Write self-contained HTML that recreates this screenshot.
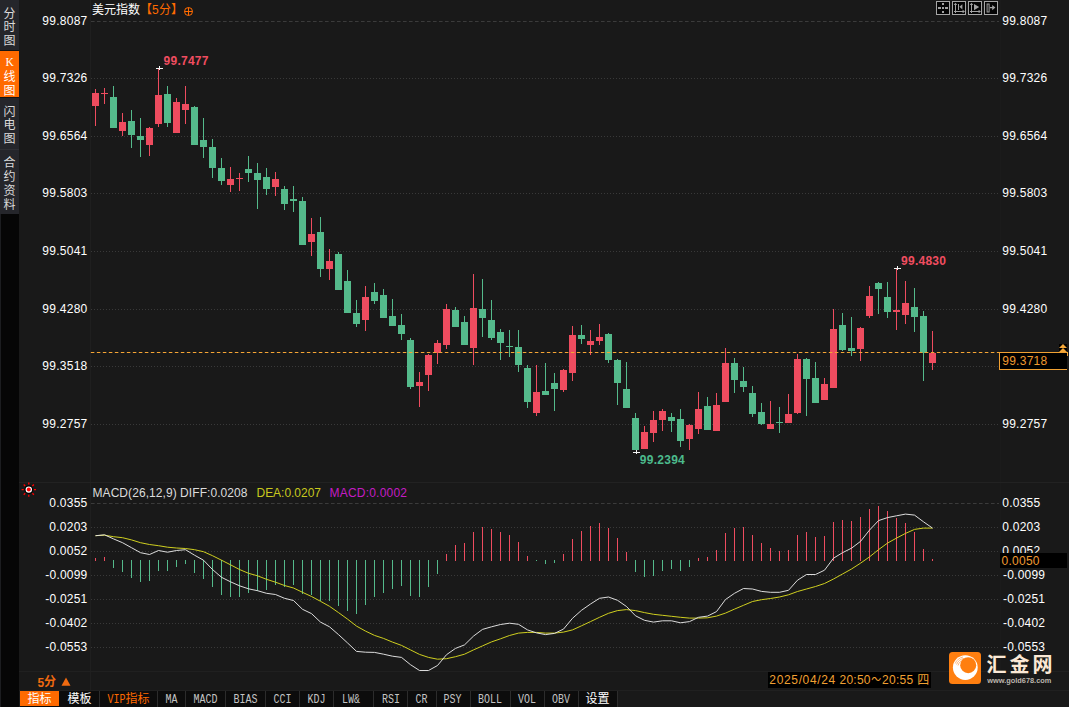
<!DOCTYPE html>
<html><head><meta charset="utf-8"><title>chart</title>
<style>
html,body{margin:0;padding:0;background:#191919;overflow:hidden;}
svg{display:block;}
</style></head><body>
<svg width="1069" height="707" viewBox="0 0 1069 707">
<rect x="0" y="0" width="1069" height="707" fill="#191919"/>
<rect x="0" y="0" width="19" height="707" fill="#060606"/>
<rect x="0" y="0" width="19" height="214" fill="#25262b"/>
<rect x="0" y="51" width="19" height="46" fill="#ff6a00"/>
<rect x="0" y="50" width="19" height="1" fill="#141414"/>
<rect x="0" y="97" width="19" height="1" fill="#141414"/>
<rect x="0" y="149" width="19" height="1" fill="#2f3035"/>
<rect x="0" y="214" width="1" height="493" fill="#1c1d20"/>
<rect x="90" y="0" width="1" height="691" fill="#1f1f1f"/>
<rect x="1000" y="0" width="1" height="691" fill="#1b1b1b"/>
<rect x="19" y="482" width="1050" height="1" fill="#222222"/>
<rect x="19" y="671" width="1050" height="1" fill="#202020"/>
<rect x="19" y="690" width="1050" height="1" fill="#202020"/>
<g shape-rendering="crispEdges">
<line x1="91" y1="21.5" x2="999" y2="21.5" stroke="#3b3b3b" stroke-width="1" stroke-dasharray="3.6 2.4" shape-rendering="auto"/>
<line x1="91" y1="78.5" x2="999" y2="78.5" stroke="#393939" stroke-width="1" stroke-dasharray="1 2"/>
<line x1="91" y1="136.5" x2="999" y2="136.5" stroke="#393939" stroke-width="1" stroke-dasharray="1 2"/>
<line x1="91" y1="193.5" x2="999" y2="193.5" stroke="#393939" stroke-width="1" stroke-dasharray="1 2"/>
<line x1="91" y1="251.5" x2="999" y2="251.5" stroke="#393939" stroke-width="1" stroke-dasharray="1 2"/>
<line x1="91" y1="309.5" x2="999" y2="309.5" stroke="#393939" stroke-width="1" stroke-dasharray="1 2"/>
<line x1="91" y1="366.5" x2="999" y2="366.5" stroke="#393939" stroke-width="1" stroke-dasharray="1 2"/>
<line x1="91" y1="424.5" x2="999" y2="424.5" stroke="#393939" stroke-width="1" stroke-dasharray="1 2"/>
<line x1="91" y1="503.5" x2="999" y2="503.5" stroke="#3b3b3b" stroke-width="1" stroke-dasharray="3.6 2.4" shape-rendering="auto"/>
<line x1="91" y1="527.5" x2="999" y2="527.5" stroke="#393939" stroke-width="1" stroke-dasharray="1 2"/>
<line x1="91" y1="551.5" x2="999" y2="551.5" stroke="#393939" stroke-width="1" stroke-dasharray="1 2"/>
<line x1="91" y1="575.5" x2="999" y2="575.5" stroke="#393939" stroke-width="1" stroke-dasharray="1 2"/>
<line x1="91" y1="599.5" x2="999" y2="599.5" stroke="#393939" stroke-width="1" stroke-dasharray="1 2"/>
<line x1="91" y1="623.5" x2="999" y2="623.5" stroke="#393939" stroke-width="1" stroke-dasharray="1 2"/>
<line x1="91" y1="647.5" x2="999" y2="647.5" stroke="#393939" stroke-width="1" stroke-dasharray="1 2"/>
</g>
<g shape-rendering="crispEdges">
<rect x="95" y="89" width="1" height="37" fill="#ee4c5f"/>
<rect x="92" y="93" width="7" height="13" fill="#ee4c5f"/>
<rect x="104" y="88" width="1" height="16" fill="#ee4c5f"/>
<rect x="101" y="93" width="7" height="1" fill="#ee4c5f"/>
<rect x="113" y="86" width="1" height="42" fill="#54ba8b"/>
<rect x="110" y="97" width="7" height="31" fill="#54ba8b"/>
<rect x="122" y="113" width="1" height="23" fill="#ee4c5f"/>
<rect x="119" y="122" width="7" height="9" fill="#ee4c5f"/>
<rect x="131" y="110" width="1" height="38" fill="#54ba8b"/>
<rect x="128" y="121" width="7" height="14" fill="#54ba8b"/>
<rect x="140" y="118" width="1" height="39" fill="#54ba8b"/>
<rect x="137" y="136" width="7" height="4" fill="#54ba8b"/>
<rect x="149" y="127" width="1" height="29" fill="#ee4c5f"/>
<rect x="146" y="128" width="7" height="17" fill="#ee4c5f"/>
<rect x="158" y="68" width="1" height="59" fill="#ee4c5f"/>
<rect x="155" y="95" width="7" height="29" fill="#ee4c5f"/>
<rect x="167" y="86" width="1" height="41" fill="#54ba8b"/>
<rect x="164" y="94" width="7" height="29" fill="#54ba8b"/>
<rect x="176" y="98" width="1" height="35" fill="#ee4c5f"/>
<rect x="173" y="102" width="7" height="31" fill="#ee4c5f"/>
<rect x="185" y="86" width="1" height="38" fill="#ee4c5f"/>
<rect x="182" y="104" width="7" height="6" fill="#ee4c5f"/>
<rect x="194" y="106" width="1" height="39" fill="#54ba8b"/>
<rect x="191" y="107" width="7" height="38" fill="#54ba8b"/>
<rect x="203" y="118" width="1" height="40" fill="#54ba8b"/>
<rect x="200" y="140" width="7" height="7" fill="#54ba8b"/>
<rect x="212" y="139" width="1" height="39" fill="#54ba8b"/>
<rect x="209" y="147" width="7" height="21" fill="#54ba8b"/>
<rect x="221" y="158" width="1" height="27" fill="#54ba8b"/>
<rect x="218" y="168" width="7" height="13" fill="#54ba8b"/>
<rect x="230" y="167" width="1" height="25" fill="#ee4c5f"/>
<rect x="227" y="179" width="7" height="6" fill="#ee4c5f"/>
<rect x="239" y="173" width="1" height="18" fill="#ee4c5f"/>
<rect x="236" y="178" width="7" height="1" fill="#ee4c5f"/>
<rect x="248" y="156" width="1" height="26" fill="#54ba8b"/>
<rect x="245" y="169" width="7" height="4" fill="#54ba8b"/>
<rect x="257" y="163" width="1" height="46" fill="#54ba8b"/>
<rect x="254" y="173" width="7" height="7" fill="#54ba8b"/>
<rect x="266" y="168" width="1" height="27" fill="#54ba8b"/>
<rect x="263" y="177" width="7" height="12" fill="#54ba8b"/>
<rect x="275" y="172" width="1" height="24" fill="#ee4c5f"/>
<rect x="272" y="179" width="7" height="8" fill="#ee4c5f"/>
<rect x="284" y="186" width="1" height="24" fill="#54ba8b"/>
<rect x="281" y="189" width="7" height="15" fill="#54ba8b"/>
<rect x="293" y="186" width="1" height="26" fill="#54ba8b"/>
<rect x="290" y="199" width="7" height="2" fill="#54ba8b"/>
<rect x="302" y="197" width="1" height="48" fill="#54ba8b"/>
<rect x="299" y="201" width="7" height="44" fill="#54ba8b"/>
<rect x="311" y="218" width="1" height="38" fill="#ee4c5f"/>
<rect x="308" y="234" width="7" height="8" fill="#ee4c5f"/>
<rect x="320" y="217" width="1" height="60" fill="#54ba8b"/>
<rect x="317" y="232" width="7" height="37" fill="#54ba8b"/>
<rect x="329" y="249" width="1" height="31" fill="#ee4c5f"/>
<rect x="326" y="261" width="7" height="8" fill="#ee4c5f"/>
<rect x="338" y="252" width="1" height="38" fill="#54ba8b"/>
<rect x="335" y="254" width="7" height="36" fill="#54ba8b"/>
<rect x="347" y="270" width="1" height="43" fill="#54ba8b"/>
<rect x="344" y="281" width="7" height="32" fill="#54ba8b"/>
<rect x="356" y="300" width="1" height="27" fill="#54ba8b"/>
<rect x="353" y="313" width="7" height="11" fill="#54ba8b"/>
<rect x="365" y="286" width="1" height="45" fill="#ee4c5f"/>
<rect x="362" y="297" width="7" height="23" fill="#ee4c5f"/>
<rect x="374" y="283" width="1" height="21" fill="#54ba8b"/>
<rect x="371" y="292" width="7" height="9" fill="#54ba8b"/>
<rect x="383" y="289" width="1" height="29" fill="#54ba8b"/>
<rect x="380" y="295" width="7" height="23" fill="#54ba8b"/>
<rect x="392" y="299" width="1" height="27" fill="#54ba8b"/>
<rect x="389" y="316" width="7" height="10" fill="#54ba8b"/>
<rect x="401" y="314" width="1" height="26" fill="#54ba8b"/>
<rect x="398" y="325" width="7" height="9" fill="#54ba8b"/>
<rect x="410" y="338" width="1" height="51" fill="#54ba8b"/>
<rect x="407" y="340" width="7" height="47" fill="#54ba8b"/>
<rect x="419" y="372" width="1" height="35" fill="#ee4c5f"/>
<rect x="416" y="382" width="7" height="4" fill="#ee4c5f"/>
<rect x="428" y="354" width="1" height="37" fill="#ee4c5f"/>
<rect x="425" y="355" width="7" height="20" fill="#ee4c5f"/>
<rect x="437" y="340" width="1" height="24" fill="#ee4c5f"/>
<rect x="434" y="343" width="7" height="10" fill="#ee4c5f"/>
<rect x="446" y="304" width="1" height="45" fill="#ee4c5f"/>
<rect x="443" y="309" width="7" height="36" fill="#ee4c5f"/>
<rect x="455" y="307" width="1" height="20" fill="#54ba8b"/>
<rect x="452" y="310" width="7" height="17" fill="#54ba8b"/>
<rect x="464" y="316" width="1" height="29" fill="#54ba8b"/>
<rect x="461" y="322" width="7" height="23" fill="#54ba8b"/>
<rect x="473" y="274" width="1" height="91" fill="#ee4c5f"/>
<rect x="470" y="308" width="7" height="40" fill="#ee4c5f"/>
<rect x="482" y="279" width="1" height="58" fill="#54ba8b"/>
<rect x="479" y="309" width="7" height="9" fill="#54ba8b"/>
<rect x="491" y="300" width="1" height="40" fill="#54ba8b"/>
<rect x="488" y="320" width="7" height="18" fill="#54ba8b"/>
<rect x="500" y="329" width="1" height="31" fill="#54ba8b"/>
<rect x="497" y="332" width="7" height="11" fill="#54ba8b"/>
<rect x="509" y="330" width="1" height="27" fill="#54ba8b"/>
<rect x="506" y="346" width="7" height="1" fill="#54ba8b"/>
<rect x="518" y="330" width="1" height="42" fill="#54ba8b"/>
<rect x="515" y="347" width="7" height="18" fill="#54ba8b"/>
<rect x="527" y="365" width="1" height="43" fill="#54ba8b"/>
<rect x="524" y="368" width="7" height="34" fill="#54ba8b"/>
<rect x="536" y="365" width="1" height="51" fill="#ee4c5f"/>
<rect x="533" y="392" width="7" height="21" fill="#ee4c5f"/>
<rect x="545" y="363" width="1" height="32" fill="#54ba8b"/>
<rect x="542" y="391" width="7" height="4" fill="#54ba8b"/>
<rect x="554" y="373" width="1" height="38" fill="#54ba8b"/>
<rect x="551" y="383" width="7" height="6" fill="#54ba8b"/>
<rect x="563" y="369" width="1" height="23" fill="#ee4c5f"/>
<rect x="560" y="370" width="7" height="20" fill="#ee4c5f"/>
<rect x="572" y="326" width="1" height="55" fill="#ee4c5f"/>
<rect x="569" y="335" width="7" height="38" fill="#ee4c5f"/>
<rect x="581" y="325" width="1" height="19" fill="#54ba8b"/>
<rect x="578" y="335" width="7" height="4" fill="#54ba8b"/>
<rect x="590" y="330" width="1" height="25" fill="#ee4c5f"/>
<rect x="587" y="341" width="7" height="4" fill="#ee4c5f"/>
<rect x="599" y="324" width="1" height="21" fill="#ee4c5f"/>
<rect x="596" y="337" width="7" height="4" fill="#ee4c5f"/>
<rect x="608" y="333" width="1" height="30" fill="#54ba8b"/>
<rect x="605" y="334" width="7" height="26" fill="#54ba8b"/>
<rect x="617" y="359" width="1" height="46" fill="#54ba8b"/>
<rect x="614" y="360" width="7" height="23" fill="#54ba8b"/>
<rect x="626" y="362" width="1" height="46" fill="#54ba8b"/>
<rect x="623" y="389" width="7" height="19" fill="#54ba8b"/>
<rect x="635" y="413" width="1" height="37" fill="#54ba8b"/>
<rect x="632" y="418" width="7" height="32" fill="#54ba8b"/>
<rect x="644" y="426" width="1" height="23" fill="#ee4c5f"/>
<rect x="641" y="432" width="7" height="17" fill="#ee4c5f"/>
<rect x="653" y="411" width="1" height="31" fill="#ee4c5f"/>
<rect x="650" y="420" width="7" height="13" fill="#ee4c5f"/>
<rect x="662" y="409" width="1" height="22" fill="#ee4c5f"/>
<rect x="659" y="411" width="7" height="9" fill="#ee4c5f"/>
<rect x="671" y="413" width="1" height="19" fill="#54ba8b"/>
<rect x="668" y="417" width="7" height="4" fill="#54ba8b"/>
<rect x="680" y="409" width="1" height="38" fill="#54ba8b"/>
<rect x="677" y="419" width="7" height="22" fill="#54ba8b"/>
<rect x="689" y="424" width="1" height="26" fill="#ee4c5f"/>
<rect x="686" y="425" width="7" height="14" fill="#ee4c5f"/>
<rect x="698" y="392" width="1" height="42" fill="#ee4c5f"/>
<rect x="695" y="409" width="7" height="20" fill="#ee4c5f"/>
<rect x="707" y="397" width="1" height="33" fill="#54ba8b"/>
<rect x="704" y="406" width="7" height="24" fill="#54ba8b"/>
<rect x="716" y="393" width="1" height="38" fill="#ee4c5f"/>
<rect x="713" y="405" width="7" height="26" fill="#ee4c5f"/>
<rect x="725" y="348" width="1" height="54" fill="#ee4c5f"/>
<rect x="722" y="363" width="7" height="39" fill="#ee4c5f"/>
<rect x="734" y="358" width="1" height="35" fill="#54ba8b"/>
<rect x="731" y="363" width="7" height="17" fill="#54ba8b"/>
<rect x="743" y="367" width="1" height="25" fill="#54ba8b"/>
<rect x="740" y="381" width="7" height="6" fill="#54ba8b"/>
<rect x="752" y="386" width="1" height="31" fill="#54ba8b"/>
<rect x="749" y="393" width="7" height="21" fill="#54ba8b"/>
<rect x="761" y="403" width="1" height="22" fill="#54ba8b"/>
<rect x="758" y="412" width="7" height="12" fill="#54ba8b"/>
<rect x="770" y="401" width="1" height="28" fill="#ee4c5f"/>
<rect x="767" y="424" width="7" height="5" fill="#ee4c5f"/>
<rect x="779" y="407" width="1" height="26" fill="#54ba8b"/>
<rect x="776" y="422" width="7" height="1" fill="#54ba8b"/>
<rect x="788" y="394" width="1" height="29" fill="#ee4c5f"/>
<rect x="785" y="414" width="7" height="9" fill="#ee4c5f"/>
<rect x="797" y="354" width="1" height="60" fill="#ee4c5f"/>
<rect x="794" y="359" width="7" height="54" fill="#ee4c5f"/>
<rect x="806" y="358" width="1" height="58" fill="#54ba8b"/>
<rect x="803" y="359" width="7" height="20" fill="#54ba8b"/>
<rect x="815" y="362" width="1" height="41" fill="#54ba8b"/>
<rect x="812" y="378" width="7" height="25" fill="#54ba8b"/>
<rect x="824" y="378" width="1" height="22" fill="#ee4c5f"/>
<rect x="821" y="384" width="7" height="16" fill="#ee4c5f"/>
<rect x="833" y="309" width="1" height="79" fill="#ee4c5f"/>
<rect x="830" y="329" width="7" height="59" fill="#ee4c5f"/>
<rect x="842" y="313" width="1" height="38" fill="#54ba8b"/>
<rect x="839" y="325" width="7" height="25" fill="#54ba8b"/>
<rect x="851" y="317" width="1" height="39" fill="#54ba8b"/>
<rect x="848" y="348" width="7" height="3" fill="#54ba8b"/>
<rect x="860" y="327" width="1" height="34" fill="#ee4c5f"/>
<rect x="857" y="328" width="7" height="21" fill="#ee4c5f"/>
<rect x="869" y="286" width="1" height="32" fill="#ee4c5f"/>
<rect x="866" y="296" width="7" height="20" fill="#ee4c5f"/>
<rect x="878" y="282" width="1" height="32" fill="#54ba8b"/>
<rect x="875" y="283" width="7" height="6" fill="#54ba8b"/>
<rect x="887" y="282" width="1" height="36" fill="#54ba8b"/>
<rect x="884" y="297" width="7" height="15" fill="#54ba8b"/>
<rect x="896" y="268" width="1" height="62" fill="#ee4c5f"/>
<rect x="893" y="310" width="7" height="2" fill="#ee4c5f"/>
<rect x="905" y="281" width="1" height="43" fill="#ee4c5f"/>
<rect x="902" y="303" width="7" height="12" fill="#ee4c5f"/>
<rect x="914" y="288" width="1" height="44" fill="#54ba8b"/>
<rect x="911" y="307" width="7" height="10" fill="#54ba8b"/>
<rect x="923" y="311" width="1" height="70" fill="#54ba8b"/>
<rect x="920" y="316" width="7" height="37" fill="#54ba8b"/>
<rect x="932" y="331" width="1" height="39" fill="#ee4c5f"/>
<rect x="929" y="353" width="7" height="10" fill="#ee4c5f"/>
<rect x="95" y="558" width="1" height="3" fill="#ee4c5f"/>
<rect x="104" y="557" width="1" height="4" fill="#ee4c5f"/>
<rect x="113" y="560" width="1" height="8" fill="#54ba8b"/>
<rect x="122" y="560" width="1" height="12" fill="#54ba8b"/>
<rect x="131" y="560" width="1" height="18" fill="#54ba8b"/>
<rect x="140" y="560" width="1" height="22" fill="#54ba8b"/>
<rect x="149" y="560" width="1" height="21" fill="#54ba8b"/>
<rect x="158" y="560" width="1" height="11" fill="#54ba8b"/>
<rect x="167" y="560" width="1" height="11" fill="#54ba8b"/>
<rect x="176" y="560" width="1" height="7" fill="#54ba8b"/>
<rect x="185" y="560" width="1" height="4" fill="#54ba8b"/>
<rect x="194" y="560" width="1" height="13" fill="#54ba8b"/>
<rect x="203" y="560" width="1" height="19" fill="#54ba8b"/>
<rect x="212" y="560" width="1" height="27" fill="#54ba8b"/>
<rect x="221" y="560" width="1" height="35" fill="#54ba8b"/>
<rect x="230" y="560" width="1" height="37" fill="#54ba8b"/>
<rect x="239" y="560" width="1" height="37" fill="#54ba8b"/>
<rect x="248" y="560" width="1" height="33" fill="#54ba8b"/>
<rect x="257" y="560" width="1" height="31" fill="#54ba8b"/>
<rect x="266" y="560" width="1" height="30" fill="#54ba8b"/>
<rect x="275" y="560" width="1" height="25" fill="#54ba8b"/>
<rect x="284" y="560" width="1" height="27" fill="#54ba8b"/>
<rect x="293" y="560" width="1" height="25" fill="#54ba8b"/>
<rect x="302" y="560" width="1" height="34" fill="#54ba8b"/>
<rect x="311" y="560" width="1" height="35" fill="#54ba8b"/>
<rect x="320" y="560" width="1" height="41" fill="#54ba8b"/>
<rect x="329" y="560" width="1" height="41" fill="#54ba8b"/>
<rect x="338" y="560" width="1" height="46" fill="#54ba8b"/>
<rect x="347" y="560" width="1" height="51" fill="#54ba8b"/>
<rect x="356" y="560" width="1" height="54" fill="#54ba8b"/>
<rect x="365" y="560" width="1" height="45" fill="#54ba8b"/>
<rect x="374" y="560" width="1" height="37" fill="#54ba8b"/>
<rect x="383" y="560" width="1" height="33" fill="#54ba8b"/>
<rect x="392" y="560" width="1" height="29" fill="#54ba8b"/>
<rect x="401" y="560" width="1" height="26" fill="#54ba8b"/>
<rect x="410" y="560" width="1" height="36" fill="#54ba8b"/>
<rect x="419" y="560" width="1" height="37" fill="#54ba8b"/>
<rect x="428" y="560" width="1" height="27" fill="#54ba8b"/>
<rect x="437" y="560" width="1" height="14" fill="#54ba8b"/>
<rect x="446" y="554" width="1" height="7" fill="#ee4c5f"/>
<rect x="455" y="545" width="1" height="16" fill="#ee4c5f"/>
<rect x="464" y="543" width="1" height="18" fill="#ee4c5f"/>
<rect x="473" y="532" width="1" height="29" fill="#ee4c5f"/>
<rect x="482" y="527" width="1" height="34" fill="#ee4c5f"/>
<rect x="491" y="529" width="1" height="32" fill="#ee4c5f"/>
<rect x="500" y="532" width="1" height="29" fill="#ee4c5f"/>
<rect x="509" y="535" width="1" height="26" fill="#ee4c5f"/>
<rect x="518" y="542" width="1" height="19" fill="#ee4c5f"/>
<rect x="527" y="556" width="1" height="5" fill="#ee4c5f"/>
<rect x="536" y="560" width="1" height="1" fill="#54ba8b"/>
<rect x="545" y="560" width="1" height="4" fill="#54ba8b"/>
<rect x="554" y="560" width="1" height="3" fill="#54ba8b"/>
<rect x="563" y="554" width="1" height="7" fill="#ee4c5f"/>
<rect x="572" y="539" width="1" height="22" fill="#ee4c5f"/>
<rect x="581" y="531" width="1" height="30" fill="#ee4c5f"/>
<rect x="590" y="526" width="1" height="35" fill="#ee4c5f"/>
<rect x="599" y="523" width="1" height="38" fill="#ee4c5f"/>
<rect x="608" y="528" width="1" height="33" fill="#ee4c5f"/>
<rect x="617" y="538" width="1" height="23" fill="#ee4c5f"/>
<rect x="626" y="552" width="1" height="9" fill="#ee4c5f"/>
<rect x="635" y="560" width="1" height="12" fill="#54ba8b"/>
<rect x="644" y="560" width="1" height="17" fill="#54ba8b"/>
<rect x="653" y="560" width="1" height="16" fill="#54ba8b"/>
<rect x="662" y="560" width="1" height="11" fill="#54ba8b"/>
<rect x="671" y="560" width="1" height="9" fill="#54ba8b"/>
<rect x="680" y="560" width="1" height="11" fill="#54ba8b"/>
<rect x="689" y="560" width="1" height="7" fill="#54ba8b"/>
<rect x="698" y="558" width="1" height="3" fill="#ee4c5f"/>
<rect x="707" y="557" width="1" height="4" fill="#ee4c5f"/>
<rect x="716" y="550" width="1" height="11" fill="#ee4c5f"/>
<rect x="725" y="533" width="1" height="28" fill="#ee4c5f"/>
<rect x="734" y="528" width="1" height="33" fill="#ee4c5f"/>
<rect x="743" y="527" width="1" height="34" fill="#ee4c5f"/>
<rect x="752" y="535" width="1" height="26" fill="#ee4c5f"/>
<rect x="761" y="543" width="1" height="18" fill="#ee4c5f"/>
<rect x="770" y="548" width="1" height="13" fill="#ee4c5f"/>
<rect x="779" y="551" width="1" height="10" fill="#ee4c5f"/>
<rect x="788" y="550" width="1" height="11" fill="#ee4c5f"/>
<rect x="797" y="535" width="1" height="26" fill="#ee4c5f"/>
<rect x="806" y="532" width="1" height="29" fill="#ee4c5f"/>
<rect x="815" y="537" width="1" height="24" fill="#ee4c5f"/>
<rect x="824" y="536" width="1" height="25" fill="#ee4c5f"/>
<rect x="833" y="522" width="1" height="39" fill="#ee4c5f"/>
<rect x="842" y="520" width="1" height="41" fill="#ee4c5f"/>
<rect x="851" y="521" width="1" height="40" fill="#ee4c5f"/>
<rect x="860" y="517" width="1" height="44" fill="#ee4c5f"/>
<rect x="869" y="509" width="1" height="52" fill="#ee4c5f"/>
<rect x="878" y="506" width="1" height="55" fill="#ee4c5f"/>
<rect x="887" y="511" width="1" height="50" fill="#ee4c5f"/>
<rect x="896" y="518" width="1" height="43" fill="#ee4c5f"/>
<rect x="905" y="523" width="1" height="38" fill="#ee4c5f"/>
<rect x="914" y="532" width="1" height="29" fill="#ee4c5f"/>
<rect x="923" y="549" width="1" height="12" fill="#ee4c5f"/>
<rect x="932" y="559" width="1" height="2" fill="#ee4c5f"/>
<rect x="156" y="68" width="7" height="1" fill="#f2f2f2"/><rect x="159" y="66" width="1" height="4" fill="#f2f2f2"/>
<rect x="894" y="268" width="7" height="1" fill="#f2f2f2"/><rect x="897" y="266" width="1" height="4" fill="#f2f2f2"/>
<rect x="633" y="452" width="7" height="1" fill="#f2f2f2"/><rect x="636" y="450" width="1" height="4" fill="#f2f2f2"/>
</g>
<line x1="90.85" y1="352.5" x2="999" y2="352.5" stroke="#f5a535" stroke-width="1" stroke-dasharray="3.5 2.5"/>
<polyline points="95.5,535.7 104.5,535.2 113.5,536.7 122.5,537.7 131.5,539.9 140.5,542.7 149.5,544.5 158.5,545.7 167.5,547.2 176.5,548.0 185.5,548.5 194.5,549.7 203.5,551.7 212.5,555.7 221.5,560.2 230.5,564.8 239.5,569.5 248.5,573.3 257.5,575.8 266.5,579.3 275.5,582.2 284.5,585.5 293.5,588.0 302.5,592.3 311.5,596.5 320.5,601.3 329.5,606.3 338.5,612.6 347.5,619.1 356.5,626.1 365.5,631.1 374.5,635.4 383.5,638.4 392.5,642.1 401.5,645.4 410.5,649.9 419.5,654.4 428.5,657.4 437.5,659.2 446.5,658.7 455.5,656.7 464.5,654.2 473.5,649.9 482.5,645.9 491.5,641.9 500.5,638.8 509.5,635.5 518.5,633.1 527.5,632.4 536.5,632.4 545.5,633.1 554.5,633.1 563.5,632.1 572.5,629.9 581.5,625.8 590.5,621.6 599.5,617.3 608.5,613.3 617.5,610.6 626.5,609.6 635.5,610.6 644.5,612.6 653.5,614.3 662.5,615.3 671.5,616.3 680.5,617.3 689.5,618.1 698.5,618.1 707.5,617.8 716.5,616.1 725.5,613.1 734.5,609.1 743.5,605.3 752.5,601.5 761.5,599.7 770.5,598.5 779.5,597.0 788.5,594.8 797.5,591.5 806.5,589.0 815.5,586.5 824.5,583.5 833.5,579.0 842.5,574.0 851.5,569.0 860.5,563.2 869.5,556.9 878.5,549.7 887.5,543.1 896.5,538.1 905.5,533.4 914.5,529.4 923.5,528.1 932.5,528.1" fill="none" stroke="#d8d820" stroke-width="0.95" stroke-linejoin="round"/>
<polyline points="95.5,535.7 104.5,534.8 113.5,538.9 122.5,542.7 131.5,547.7 140.5,552.7 149.5,554.5 158.5,550.5 167.5,552.2 176.5,550.5 185.5,549.7 194.5,555.2 203.5,560.2 212.5,569.5 221.5,577.3 230.5,581.8 239.5,585.8 248.5,588.8 257.5,590.7 266.5,593.3 275.5,594.5 284.5,598.3 293.5,600.5 302.5,609.3 311.5,613.6 320.5,622.1 329.5,626.8 338.5,634.6 347.5,642.9 356.5,651.4 365.5,652.2 374.5,652.4 383.5,654.2 392.5,656.2 401.5,657.4 410.5,664.7 419.5,670.5 428.5,670.5 437.5,665.5 446.5,654.7 455.5,648.4 464.5,644.9 473.5,636.1 482.5,629.4 491.5,626.8 500.5,624.5 509.5,623.2 518.5,624.3 527.5,629.9 536.5,632.9 545.5,634.6 554.5,633.4 563.5,629.1 572.5,618.3 581.5,610.3 590.5,604.0 599.5,598.3 608.5,597.0 617.5,600.3 626.5,606.5 635.5,615.8 644.5,620.3 653.5,622.1 662.5,620.8 671.5,620.8 680.5,622.8 689.5,621.6 698.5,617.3 707.5,616.1 716.5,611.6 725.5,599.5 734.5,593.3 743.5,588.5 752.5,589.0 761.5,591.4 770.5,592.3 779.5,592.3 788.5,590.3 797.5,580.2 806.5,574.5 815.5,574.5 824.5,570.2 833.5,558.2 842.5,552.7 851.5,548.2 860.5,541.4 869.5,530.1 878.5,520.6 887.5,517.6 896.5,515.8 905.5,514.1 914.5,515.1 923.5,521.8 932.5,528.1" fill="none" stroke="#e6e6e6" stroke-width="0.95" stroke-linejoin="round"/>
<text x="42.3" y="24.5" fill="#fff" font-size="12" text-anchor="start" font-weight="normal" style="font-family:'Liberation Sans',sans-serif"  textLength="45" lengthAdjust="spacing">99.8087</text>
<text x="1002.2" y="24.5" fill="#fff" font-size="12" text-anchor="start" font-weight="normal" style="font-family:'Liberation Sans',sans-serif"  textLength="45" lengthAdjust="spacing">99.8087</text>
<text x="42.3" y="81.5" fill="#fff" font-size="12" text-anchor="start" font-weight="normal" style="font-family:'Liberation Sans',sans-serif"  textLength="45" lengthAdjust="spacing">99.7326</text>
<text x="1002.2" y="81.5" fill="#fff" font-size="12" text-anchor="start" font-weight="normal" style="font-family:'Liberation Sans',sans-serif"  textLength="45" lengthAdjust="spacing">99.7326</text>
<text x="42.3" y="139.5" fill="#fff" font-size="12" text-anchor="start" font-weight="normal" style="font-family:'Liberation Sans',sans-serif"  textLength="45" lengthAdjust="spacing">99.6564</text>
<text x="1002.2" y="139.5" fill="#fff" font-size="12" text-anchor="start" font-weight="normal" style="font-family:'Liberation Sans',sans-serif"  textLength="45" lengthAdjust="spacing">99.6564</text>
<text x="42.3" y="196.5" fill="#fff" font-size="12" text-anchor="start" font-weight="normal" style="font-family:'Liberation Sans',sans-serif"  textLength="45" lengthAdjust="spacing">99.5803</text>
<text x="1002.2" y="196.5" fill="#fff" font-size="12" text-anchor="start" font-weight="normal" style="font-family:'Liberation Sans',sans-serif"  textLength="45" lengthAdjust="spacing">99.5803</text>
<text x="42.3" y="254.5" fill="#fff" font-size="12" text-anchor="start" font-weight="normal" style="font-family:'Liberation Sans',sans-serif"  textLength="45" lengthAdjust="spacing">99.5041</text>
<text x="1002.2" y="254.5" fill="#fff" font-size="12" text-anchor="start" font-weight="normal" style="font-family:'Liberation Sans',sans-serif"  textLength="45" lengthAdjust="spacing">99.5041</text>
<text x="42.3" y="312.5" fill="#fff" font-size="12" text-anchor="start" font-weight="normal" style="font-family:'Liberation Sans',sans-serif"  textLength="45" lengthAdjust="spacing">99.4280</text>
<text x="1002.2" y="312.5" fill="#fff" font-size="12" text-anchor="start" font-weight="normal" style="font-family:'Liberation Sans',sans-serif"  textLength="45" lengthAdjust="spacing">99.4280</text>
<text x="42.3" y="369.5" fill="#fff" font-size="12" text-anchor="start" font-weight="normal" style="font-family:'Liberation Sans',sans-serif"  textLength="45" lengthAdjust="spacing">99.3518</text>
<text x="42.3" y="427.5" fill="#fff" font-size="12" text-anchor="start" font-weight="normal" style="font-family:'Liberation Sans',sans-serif"  textLength="45" lengthAdjust="spacing">99.2757</text>
<text x="1002.2" y="427.5" fill="#fff" font-size="12" text-anchor="start" font-weight="normal" style="font-family:'Liberation Sans',sans-serif"  textLength="45" lengthAdjust="spacing">99.2757</text>
<text x="49.3" y="507" fill="#fff" font-size="12" text-anchor="start" font-weight="normal" style="font-family:'Liberation Sans',sans-serif"  textLength="38" lengthAdjust="spacing">0.0355</text>
<text x="1002.2" y="507" fill="#fff" font-size="12" text-anchor="start" font-weight="normal" style="font-family:'Liberation Sans',sans-serif"  textLength="38" lengthAdjust="spacing">0.0355</text>
<text x="49.3" y="531" fill="#fff" font-size="12" text-anchor="start" font-weight="normal" style="font-family:'Liberation Sans',sans-serif"  textLength="38" lengthAdjust="spacing">0.0203</text>
<text x="1002.2" y="531" fill="#fff" font-size="12" text-anchor="start" font-weight="normal" style="font-family:'Liberation Sans',sans-serif"  textLength="38" lengthAdjust="spacing">0.0203</text>
<text x="49.3" y="555" fill="#fff" font-size="12" text-anchor="start" font-weight="normal" style="font-family:'Liberation Sans',sans-serif"  textLength="38" lengthAdjust="spacing">0.0052</text>
<text x="1002.2" y="555" fill="#fff" font-size="12" text-anchor="start" font-weight="normal" style="font-family:'Liberation Sans',sans-serif"  textLength="38" lengthAdjust="spacing">0.0052</text>
<text x="45.3" y="579" fill="#fff" font-size="12" text-anchor="start" font-weight="normal" style="font-family:'Liberation Sans',sans-serif"  textLength="42" lengthAdjust="spacing">-0.0099</text>
<text x="1003" y="579" fill="#fff" font-size="12" text-anchor="start" font-weight="normal" style="font-family:'Liberation Sans',sans-serif"  textLength="42" lengthAdjust="spacing">-0.0099</text>
<text x="45.3" y="603" fill="#fff" font-size="12" text-anchor="start" font-weight="normal" style="font-family:'Liberation Sans',sans-serif"  textLength="42" lengthAdjust="spacing">-0.0251</text>
<text x="1003" y="603" fill="#fff" font-size="12" text-anchor="start" font-weight="normal" style="font-family:'Liberation Sans',sans-serif"  textLength="42" lengthAdjust="spacing">-0.0251</text>
<text x="45.3" y="627" fill="#fff" font-size="12" text-anchor="start" font-weight="normal" style="font-family:'Liberation Sans',sans-serif"  textLength="42" lengthAdjust="spacing">-0.0402</text>
<text x="1003" y="627" fill="#fff" font-size="12" text-anchor="start" font-weight="normal" style="font-family:'Liberation Sans',sans-serif"  textLength="42" lengthAdjust="spacing">-0.0402</text>
<text x="45.3" y="651" fill="#fff" font-size="12" text-anchor="start" font-weight="normal" style="font-family:'Liberation Sans',sans-serif"  textLength="42" lengthAdjust="spacing">-0.0553</text>
<text x="1003" y="651" fill="#fff" font-size="12" text-anchor="start" font-weight="normal" style="font-family:'Liberation Sans',sans-serif"  textLength="42" lengthAdjust="spacing">-0.0553</text>
<g shape-rendering="crispEdges">
<rect x="1000" y="353" width="67" height="16" fill="#000"/>
<rect x="999" y="352" width="69" height="1" fill="#f0a032"/>
<rect x="999" y="369" width="68" height="1" fill="#f0a032"/>
<rect x="999" y="352" width="1" height="18" fill="#f0a032"/>
<rect x="1067" y="352" width="1" height="4" fill="#f0a032"/>
<rect x="1059" y="344" width="8" height="8" fill="#000"/>
</g>
<path d="M1063,344 L1067,348 L1059,348 Z M1063,348 L1067,352 L1059,352 Z" fill="#f5a83a"/>
<text x="1002.2" y="365" fill="#f09a30" font-size="12" text-anchor="start" font-weight="normal" style="font-family:'Liberation Sans',sans-serif"  textLength="45" lengthAdjust="spacing">99.3718</text>
<rect x="1000" y="553" width="67" height="15" fill="#000" shape-rendering="crispEdges"/>
<text x="1001.5" y="565" fill="#f09a30" font-size="12" text-anchor="start" font-weight="normal" style="font-family:'Liberation Sans',sans-serif"  textLength="38" lengthAdjust="spacing">0.0050</text>
<text x="163.5" y="65" fill="#f04d60" font-size="12" text-anchor="start" font-weight="bold" style="font-family:'Liberation Sans',sans-serif"  textLength="45" lengthAdjust="spacing">99.7477</text>
<text x="901" y="265.3" fill="#f04d60" font-size="12" text-anchor="start" font-weight="bold" style="font-family:'Liberation Sans',sans-serif"  textLength="45" lengthAdjust="spacing">99.4830</text>
<text x="639.8" y="464" fill="#4cba8c" font-size="12" text-anchor="start" font-weight="bold" style="font-family:'Liberation Sans',sans-serif"  textLength="45" lengthAdjust="spacing">99.2394</text>
<text x="92" y="13.8" fill="#ffffff" font-size="12" text-anchor="start" style="font-family:'Liberation Sans','Noto Sans CJK SC',sans-serif">美元指数</text>
<text x="140" y="13.8" fill="#ff6a00" font-size="12" text-anchor="start" style="font-family:'Liberation Sans','Noto Sans CJK SC',sans-serif">【</text>
<text x="152" y="13.8" fill="#ff6a00" font-size="12" text-anchor="start" font-weight="normal" style="font-family:'Liberation Sans',sans-serif" >5</text>
<text x="159" y="13.8" fill="#ff6a00" font-size="12" text-anchor="start" style="font-family:'Liberation Sans','Noto Sans CJK SC',sans-serif">分</text>
<text x="171" y="13.8" fill="#ff6a00" font-size="12" text-anchor="start" style="font-family:'Liberation Sans','Noto Sans CJK SC',sans-serif">】</text>
<g stroke="#ff6a00" stroke-width="1" fill="none"><circle cx="188.5" cy="11.5" r="4"/><path d="M184.5,11.5H192.5M188.5,7.5V15.5"/></g>
<rect x="936.5" y="1.5" width="13" height="13" fill="#050505" stroke="#a6a6a6" stroke-width="1"/>
<rect x="952.5" y="1.5" width="13" height="13" fill="#050505" stroke="#a6a6a6" stroke-width="1"/>
<rect x="968.5" y="1.5" width="13" height="13" fill="#050505" stroke="#a6a6a6" stroke-width="1"/>
<rect x="984.5" y="1.5" width="13" height="13" fill="#050505" stroke="#a6a6a6" stroke-width="1"/>
<g fill="#a2a2a2" shape-rendering="crispEdges">
<rect x="942" y="3" width="2" height="2"/><rect x="942" y="11" width="2" height="2"/><rect x="938" y="7" width="3" height="2"/><rect x="945" y="7" width="3" height="2"/><rect x="942" y="7" width="2" height="2"/>
<rect x="955" y="4" width="1" height="9"/><rect x="954" y="11" width="10" height="1"/><rect x="958" y="4" width="1" height="6"/>
<rect x="971" y="4" width="1" height="9"/><rect x="970" y="11" width="10" height="1"/>
</g>
<g fill="#a2a2a2">
<path d="M955.5,2.8 L957.3,5 H953.7 Z M965,11.5 L962.6,9.8 V13.2 Z"/>
<path d="M962.4,4.2 L959.4,6.8 L962.4,9.4 Z"/>
<path d="M971.5,2.8 L973.3,5 H969.7 Z M981,11.5 L978.6,9.8 V13.2 Z"/>
<path d="M974,3.9 L979.2,7.1 L974,10.3 Z"/>
<path d="M989.8,7 H992.2 V4.9 L995.4,7.6 L992.2,10.3 V8.3 H989.8 Z"/>
</g>
<path d="M986.6,3.6 h3 v9 h-3 Z M987.6,4.6 h1 v7 h-1 Z" fill="#a2a2a2" fill-rule="evenodd"/>
<text x="3.5" y="17.56" fill="#dadada" font-size="12" text-anchor="start" style="font-family:'Liberation Sans','Noto Sans CJK SC',sans-serif">分</text>
<text x="3.5" y="31.26" fill="#dadada" font-size="12" text-anchor="start" style="font-family:'Liberation Sans','Noto Sans CJK SC',sans-serif">时</text>
<text x="3.5" y="44.96" fill="#dadada" font-size="12" text-anchor="start" style="font-family:'Liberation Sans','Noto Sans CJK SC',sans-serif">图</text>
<text x="9.7" y="66" fill="#fff" font-size="11.5" text-anchor="middle" font-weight="normal" style="font-family:'Liberation Serif',sans-serif" >K</text>
<text x="3.5" y="80.56" fill="#ffffff" font-size="12" text-anchor="start" style="font-family:'Liberation Sans','Noto Sans CJK SC',sans-serif">线</text>
<text x="3.5" y="94.56" fill="#ffffff" font-size="12" text-anchor="start" style="font-family:'Liberation Sans','Noto Sans CJK SC',sans-serif">图</text>
<text x="3.5" y="115.56" fill="#dadada" font-size="12" text-anchor="start" style="font-family:'Liberation Sans','Noto Sans CJK SC',sans-serif">闪</text>
<text x="3.5" y="129.36" fill="#dadada" font-size="12" text-anchor="start" style="font-family:'Liberation Sans','Noto Sans CJK SC',sans-serif">电</text>
<text x="3.5" y="143.16" fill="#dadada" font-size="12" text-anchor="start" style="font-family:'Liberation Sans','Noto Sans CJK SC',sans-serif">图</text>
<text x="3.5" y="166.96" fill="#dadada" font-size="12" text-anchor="start" style="font-family:'Liberation Sans','Noto Sans CJK SC',sans-serif">合</text>
<text x="3.5" y="180.96" fill="#dadada" font-size="12" text-anchor="start" style="font-family:'Liberation Sans','Noto Sans CJK SC',sans-serif">约</text>
<text x="3.5" y="194.96" fill="#dadada" font-size="12" text-anchor="start" style="font-family:'Liberation Sans','Noto Sans CJK SC',sans-serif">资</text>
<text x="3.5" y="208.96" fill="#dadada" font-size="12" text-anchor="start" style="font-family:'Liberation Sans','Noto Sans CJK SC',sans-serif">料</text>
<text x="92.5" y="496.5" fill="#dcdcdc" font-size="12" text-anchor="start" font-weight="normal" style="font-family:'Liberation Sans',sans-serif"  textLength="155" lengthAdjust="spacing">MACD(26,12,9) DIFF:0.0208</text>
<text x="256.5" y="496.5" fill="#c8c81e" font-size="12" text-anchor="start" font-weight="normal" style="font-family:'Liberation Sans',sans-serif"  textLength="64.5" lengthAdjust="spacing">DEA:0.0207</text>
<text x="329.5" y="496.5" fill="#c41cc4" font-size="12" text-anchor="start" font-weight="normal" style="font-family:'Liberation Sans',sans-serif"  textLength="77.5" lengthAdjust="spacing">MACD:0.0002</text>
<g><circle cx="28.8" cy="489.6" r="4.4" fill="#000"/><circle cx="28.8" cy="489.6" r="3.2" fill="#fff"/><circle cx="28.8" cy="489.6" r="2" fill="#ff0000"/>
<path d="M33.90,489.60 L36.00,489.60 M32.41,493.21 L33.89,494.69 M28.80,494.70 L28.80,496.80 M25.19,493.21 L23.71,494.69 M23.70,489.60 L21.60,489.60 M25.19,485.99 L23.71,484.51 M28.80,484.50 L28.80,482.40 M32.41,485.99 L33.89,484.51" stroke="#ff0000" stroke-width="1.3" fill="none"/></g>
<text x="37.5" y="686.7" fill="#f06a10" font-size="12" text-anchor="start" font-weight="bold" style="font-family:'Liberation Sans',sans-serif" >5</text>
<text x="44" y="686.36" fill="#f06a10" font-size="12" text-anchor="start" font-weight="bold" style="font-family:'Liberation Sans','Noto Sans CJK SC',sans-serif">分</text>
<path d="M66,677.5 L70.5,685.8 L61.5,685.8 Z" fill="#f06a10"/>
<rect x="768" y="672" width="163" height="16" fill="#000" shape-rendering="crispEdges"/>
<text x="769.3" y="684" fill="#f0a032" font-size="12" text-anchor="start" font-weight="normal" style="font-family:'Liberation Sans',sans-serif"  textLength="66" lengthAdjust="spacing">2025/04/24</text>
<text x="839.5" y="684" fill="#f0a032" font-size="12" text-anchor="start" font-weight="normal" style="font-family:'Liberation Sans',sans-serif"  textLength="31" lengthAdjust="spacing">20:50</text>
<text x="871.3" y="684.06" fill="#f0a032" font-size="12" text-anchor="start" style="font-family:'Liberation Sans','Noto Sans CJK SC',sans-serif" textLength="9.84" lengthAdjust="spacingAndGlyphs">～</text>
<text x="882.1" y="684" fill="#f0a032" font-size="12" text-anchor="start" font-weight="normal" style="font-family:'Liberation Sans',sans-serif"  textLength="31" lengthAdjust="spacing">20:55</text>
<text x="917.2" y="684.16" fill="#f0a032" font-size="12" text-anchor="start" style="font-family:'Liberation Sans','Noto Sans CJK SC',sans-serif">四</text>
<g shape-rendering="crispEdges">
<rect x="20" y="691" width="597" height="16" fill="#0c0c0c"/>
<rect x="20" y="691" width="39" height="15" fill="#ff6a00"/>
<rect x="99" y="691" width="1" height="16" fill="#2c2c2c"/>
<rect x="157" y="691" width="1" height="16" fill="#2c2c2c"/>
<rect x="185" y="691" width="1" height="16" fill="#2c2c2c"/>
<rect x="225" y="691" width="1" height="16" fill="#2c2c2c"/>
<rect x="265" y="691" width="1" height="16" fill="#2c2c2c"/>
<rect x="299" y="691" width="1" height="16" fill="#2c2c2c"/>
<rect x="333" y="691" width="1" height="16" fill="#2c2c2c"/>
<rect x="373" y="691" width="1" height="16" fill="#2c2c2c"/>
<rect x="407" y="691" width="1" height="16" fill="#2c2c2c"/>
<rect x="436" y="691" width="1" height="16" fill="#2c2c2c"/>
<rect x="470" y="691" width="1" height="16" fill="#2c2c2c"/>
<rect x="510" y="691" width="1" height="16" fill="#2c2c2c"/>
<rect x="544" y="691" width="1" height="16" fill="#2c2c2c"/>
<rect x="578" y="691" width="1" height="16" fill="#2c2c2c"/>
<rect x="617" y="691" width="1" height="16" fill="#2c2c2c"/>
</g>
<text x="27.5" y="703.06" fill="#ffffff" font-size="12" text-anchor="start" style="font-family:'Liberation Sans','Noto Sans CJK SC',sans-serif">指标</text>
<text x="67.5" y="703.06" fill="#ffffff" font-size="12" text-anchor="start" style="font-family:'Liberation Sans','Noto Sans CJK SC',sans-serif">模板</text>
<text x="107.5" y="703" fill="#ff6a00" font-size="10" style="font-family:'Liberation Mono',monospace" transform="translate(0,-210.9) scale(1,1.3)" textLength="18" lengthAdjust="spacing">VIP</text>
<text x="125.5" y="703.06" fill="#ff6a00" font-size="12" text-anchor="start" style="font-family:'Liberation Sans','Noto Sans CJK SC',sans-serif">指标</text>
<text x="165.5" y="703" fill="#c4c4c4" font-size="10" style="font-family:'Liberation Mono',monospace" transform="translate(0,-210.9) scale(1,1.3)" textLength="12" lengthAdjust="spacing">MA</text>
<text x="193.5" y="703" fill="#c4c4c4" font-size="10" style="font-family:'Liberation Mono',monospace" transform="translate(0,-210.9) scale(1,1.3)" textLength="24" lengthAdjust="spacing">MACD</text>
<text x="233.5" y="703" fill="#c4c4c4" font-size="10" style="font-family:'Liberation Mono',monospace" transform="translate(0,-210.9) scale(1,1.3)" textLength="24" lengthAdjust="spacing">BIAS</text>
<text x="273.5" y="703" fill="#c4c4c4" font-size="10" style="font-family:'Liberation Mono',monospace" transform="translate(0,-210.9) scale(1,1.3)" textLength="18" lengthAdjust="spacing">CCI</text>
<text x="307.5" y="703" fill="#c4c4c4" font-size="10" style="font-family:'Liberation Mono',monospace" transform="translate(0,-210.9) scale(1,1.3)" textLength="18" lengthAdjust="spacing">KDJ</text>
<text x="342" y="703" fill="#c4c4c4" font-size="10" style="font-family:'Liberation Mono',monospace" transform="translate(0,-210.9) scale(1,1.3)" textLength="18" lengthAdjust="spacing">LW&amp;</text>
<text x="382" y="703" fill="#c4c4c4" font-size="10" style="font-family:'Liberation Mono',monospace" transform="translate(0,-210.9) scale(1,1.3)" textLength="18" lengthAdjust="spacing">RSI</text>
<text x="415.5" y="703" fill="#c4c4c4" font-size="10" style="font-family:'Liberation Mono',monospace" transform="translate(0,-210.9) scale(1,1.3)" textLength="12" lengthAdjust="spacing">CR</text>
<text x="443.5" y="703" fill="#c4c4c4" font-size="10" style="font-family:'Liberation Mono',monospace" transform="translate(0,-210.9) scale(1,1.3)" textLength="18" lengthAdjust="spacing">PSY</text>
<text x="478" y="703" fill="#c4c4c4" font-size="10" style="font-family:'Liberation Mono',monospace" transform="translate(0,-210.9) scale(1,1.3)" textLength="24" lengthAdjust="spacing">BOLL</text>
<text x="518" y="703" fill="#c4c4c4" font-size="10" style="font-family:'Liberation Mono',monospace" transform="translate(0,-210.9) scale(1,1.3)" textLength="18" lengthAdjust="spacing">VOL</text>
<text x="552" y="703" fill="#c4c4c4" font-size="10" style="font-family:'Liberation Mono',monospace" transform="translate(0,-210.9) scale(1,1.3)" textLength="18" lengthAdjust="spacing">OBV</text>
<text x="585.5" y="703.06" fill="#ffffff" font-size="12" text-anchor="start" style="font-family:'Liberation Sans','Noto Sans CJK SC',sans-serif">设置</text>
<rect x="949" y="652" width="32" height="32" rx="3.5" fill="#ff7f10"/>
<circle cx="965.3" cy="667.6" r="12.4" fill="#ffffff"/>
<circle cx="968.2" cy="665.2" r="8" fill="#ff7f10"/>
<path d="M955.2,663.5 A11,11 0 0 1 963,657 M956.6,664.5 A9.6,9.6 0 0 1 964,658.4 M958,665.5 A8.2,8.2 0 0 1 965,659.8" stroke="#ff7f10" stroke-width="0.55" fill="none"/>
<text x="986.5" y="671.6" fill="#fbe8d5" font-size="20" font-weight="bold" text-anchor="start" style="font-family:'Liberation Sans','Noto Sans CJK SC',sans-serif">汇</text>
<text x="1009.5" y="671.6" fill="#fbe8d5" font-size="20" font-weight="bold" text-anchor="start" style="font-family:'Liberation Sans','Noto Sans CJK SC',sans-serif">金</text>
<text x="1032.5" y="671.6" fill="#fbe8d5" font-size="20" font-weight="bold" text-anchor="start" style="font-family:'Liberation Sans','Noto Sans CJK SC',sans-serif">网</text>
<text x="987.3" y="682.9" fill="#bdb6ae" font-size="7.8" text-anchor="start" font-weight="bold" style="font-family:'Liberation Sans',sans-serif" textLength="64" lengthAdjust="spacingAndGlyphs">www.gold678.com</text>
</svg>
</body></html>
